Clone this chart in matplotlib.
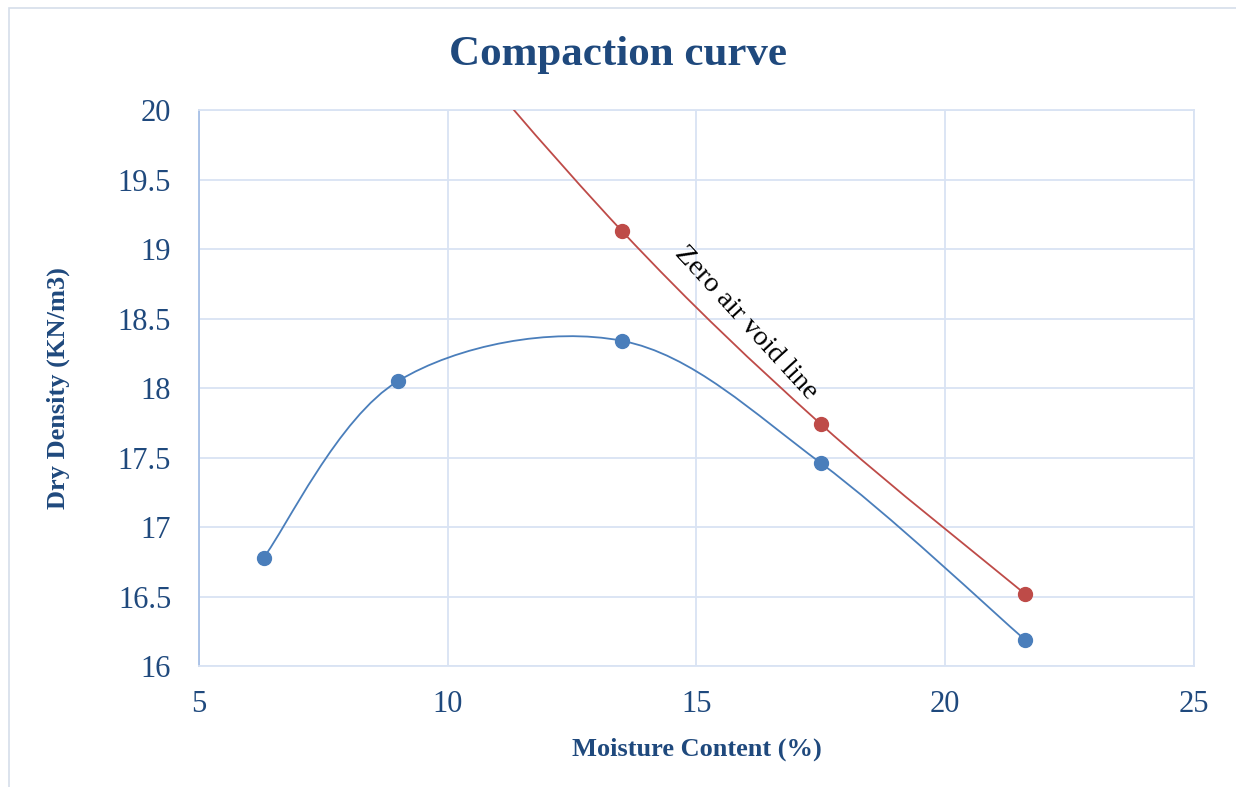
import matplotlib.pyplot as plt
import numpy as np
from matplotlib.path import Path
from matplotlib.patches import PathPatch, Rectangle

plt.rcParams['font.family'] = ['Liberation Serif', 'DejaVu Serif']

# compaction test
moisture = [6.3, 9.0, 13.5, 17.5, 21.6]
dry_density = [16.78, 18.05, 18.34, 17.46, 16.19]

# zero air void line (first two points lie above the plot)
zav_moisture = [6.3, 9.0, 13.5, 17.5, 21.6]
zav_density = [22.28, 20.99, 19.13, 17.74, 16.52]

navy = '#1F497D'
blue = '#4A7EBB'
red = '#BE4B48'
grid_c = '#D9E3F3'


def smooth_path(x, y):
    # excel style smoothed line: cubic bezier through every point
    p = np.column_stack([x, y]).astype(float)
    pts = np.vstack([p[0], p, p[-1]])
    verts = [p[0]]
    codes = [Path.MOVETO]
    for i in range(1, len(pts) - 2):
        c1 = pts[i] + (pts[i + 1] - pts[i - 1]) / 6
        c2 = pts[i + 1] - (pts[i + 2] - pts[i]) / 6
        verts += [c1, c2, pts[i + 1]]
        codes += [Path.CURVE4] * 3
    return Path(verts, codes)


fig = plt.figure(figsize=(12.36, 7.87), dpi=100)
ax = fig.add_axes([0.161, 0.1537, 0.805, 0.7065])

fig.patches.append(Rectangle((0.007, -0.01), 0.995, 1.0, transform=fig.transFigure,
                             fill=False, edgecolor='#D5DEEA', linewidth=1.2))

for xs, ys, c in [(moisture, dry_density, blue), (zav_moisture, zav_density, red)]:
    ax.add_patch(PathPatch(smooth_path(xs, ys), facecolor='none', edgecolor=c,
                           linewidth=1.3, zorder=3))
    ax.plot(xs, ys, linestyle='none', marker='o', markersize=10, color=c,
            markeredgecolor=c, zorder=4)

ax.set_xlim(5, 25)
ax.set_ylim(16, 20)
ax.set_xticks([5, 10, 15, 20, 25])
ax.set_yticks(np.arange(16, 20.01, 0.5))
ax.set_yticklabels(['16', '16.5', '17', '17.5', '18', '18.5', '19', '19.5', '20'])
ax.grid(True, color=grid_c, linewidth=1.3)
ax.set_axisbelow(True)
for s in ['top', 'right', 'bottom']:
    ax.spines[s].set_color(grid_c)
    ax.spines[s].set_linewidth(1.3)
ax.spines['left'].set_color('#A7C0E6')
ax.spines['left'].set_linewidth(1.3)
ax.tick_params(length=0, labelsize=22, labelcolor=navy)
ax.tick_params(axis='y', pad=20)
ax.tick_params(axis='x', pad=17)

ax.set_xlabel('Moisture Content (%)', fontsize=19, fontweight='bold', color=navy)
ax.set_ylabel('Dry Density (KN/m3)', fontsize=19, fontweight='bold', color=navy)
ax.xaxis.set_label_coords(0.5, -0.128)
ax.yaxis.set_label_coords(-0.1296, 0.5)

fig.text(0.5, 0.93, 'Compaction curve', ha='center', va='center', fontsize=31,
         fontweight='bold', color=navy)

ax.text(16.0, 18.47, 'Zero air void line', rotation=-47.5, ha='center', va='center',
        fontsize=20.5, color='black', rotation_mode='anchor')

plt.savefig('out.png', dpi=100)
